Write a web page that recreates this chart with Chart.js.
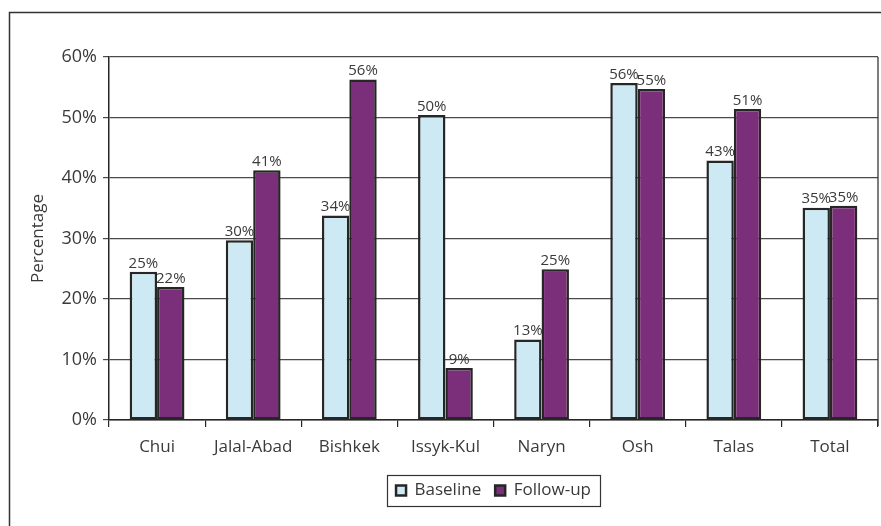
<!DOCTYPE html>
<html lang="en">
<head>
  <meta charset="UTF-8">
  <title>Percentage by region</title>
  <style>
* {
  margin: 0;
  padding: 0;
}
body {
  background: #fff;
}
#wrap {
  width: 881px;
  height: 526px;
}
  </style>
</head>
<body>
  <div id="wrap">
    <canvas id="myChart" width="881" height="526"></canvas>
  </div>
  <script src="https://cdn.jsdelivr.net/npm/chart.js@4.4.1/dist/chart.umd.min.js"></script>
  <script>
    let regions = ['Chui', 'Jalal-Abad', 'Bishkek', 'Issyk-Kul', 'Naryn', 'Osh', 'Talas', 'Total'];
    let baseline = [24.5, 29.7, 33.8, 50.4, 13.3, 55.7, 42.9, 35.1];
    let followUp = [22.0, 41.3, 56.3, 8.6, 24.9, 54.7, 51.4, 35.4];
    let yTicks = [0, 10, 20, 30, 40, 50, 60];

    let fontFamily = '"Open Sans", "Noto Sans", sans-serif';
    let textColor = '#3a3a3a';
    let lineColor = '#262626';

    // frame round the whole figure, right and bottom edges fall outside the canvas
    let framePlugin = {
      id: 'frame',
      beforeDraw(chart) {
        let c = chart.ctx;
        c.save();
        c.fillStyle = '#fff';
        c.fillRect(0, 0, chart.width, chart.height);
        c.strokeStyle = '#333';
        c.lineWidth = 1.5;
        c.strokeRect(9.5, 12.5, chart.width + 20, chart.height + 20);
        c.restore();
      },
      afterDraw(chart) {
        let c = chart.ctx;
        let a = chart.chartArea;
        c.save();
        // right edge of the plot box
        c.strokeStyle = lineColor;
        c.lineWidth = 1.2;
        c.beginPath();
        c.moveTo(a.right, a.top);
        c.lineTo(a.right, a.bottom + 6);
        c.stroke();
        // border round the legend items
        let boxes = chart.legend.legendHitBoxes;
        if (boxes && boxes.length) {
          let l = Math.min(...boxes.map(b => b.left));
          let r = Math.max(...boxes.map(b => b.left + b.width));
          let t = Math.min(...boxes.map(b => b.top));
          let bt = Math.max(...boxes.map(b => b.top + b.height));
          c.strokeStyle = '#333';
          c.lineWidth = 1.2;
          c.strokeRect(Math.round(l - 9) + 0.5, Math.round(t - 7) + 0.5, Math.round(r - l + 18), Math.round(bt - t + 14));
        }
        c.restore();
      }
    };

    // percentage written above every bar
    let valueLabels = {
      id: 'valueLabels',
      afterDatasetsDraw(chart) {
        let c = chart.ctx;
        c.save();
        c.font = '15px ' + fontFamily;
        c.fillStyle = textColor;
        c.textAlign = 'center';
        c.textBaseline = 'bottom';
        chart.data.datasets.forEach((ds, i) => {
          chart.getDatasetMeta(i).data.forEach((bar, j) => {
            c.fillText(Math.round(ds.data[j]) + '%', bar.x, bar.y - 1);
          });
        });
        c.restore();
      }
    };

    let ctx = document.getElementById('myChart').getContext('2d');
    let myChart = new Chart(ctx, {
      type: 'bar',
      data: {
        labels: regions,
        datasets: [
          {
            label: 'Baseline',
            data: baseline,
            backgroundColor: '#cde9f4',
            borderColor: lineColor,
            borderWidth: 2.5,
            borderSkipped: false
          },
          {
            label: 'Follow-up',
            data: followUp,
            backgroundColor: '#7b2e79',
            borderColor: lineColor,
            borderWidth: 2.5,
            borderSkipped: false
          }
        ]
      },
      options: {
        responsive: false,
        animation: false,
        devicePixelRatio: 1,
        layout: {
          padding: { left: 0, top: 57, right: 3, bottom: 17 }
        },
        datasets: {
          bar: {
            categoryPercentage: 0.57,
            barPercentage: 1
          }
        },
        scales: {
          x: {
            grid: {
              offset: true,
              drawOnChartArea: false,
              drawTicks: true,
              tickLength: 7,
              color: lineColor,
              lineWidth: 1.2
            },
            border: { color: lineColor, width: 1.5 },
            ticks: {
              color: textColor,
              font: { family: fontFamily, size: 17 },
              padding: 10,
              maxRotation: 0
            },
            afterFit(scale) {
              scale.height = 48;
            }
          },
          y: {
            min: 0,
            max: 60,
            afterBuildTicks(scale) {
              scale.ticks = yTicks.map(v => ({ value: v }));
            },
            grid: {
              color: '#4a4a4a',
              lineWidth: 1.2,
              tickLength: 6
            },
            border: { color: lineColor, width: 1.5 },
            ticks: {
              color: textColor,
              font: { family: fontFamily, size: 18 },
              padding: 6,
              callback: v => v + '%'
            },
            title: {
              display: true,
              text: 'Percentage',
              color: textColor,
              font: { family: fontFamily, size: 17 },
              padding: { top: 28, bottom: 0 }
            },
            afterFit(scale) {
              scale.width = 109;
            }
          }
        },
        plugins: {
          legend: {
            position: 'bottom',
            fullSize: false,
            labels: {
              color: textColor,
              font: { family: fontFamily, size: 17 },
              boxWidth: 10,
              boxHeight: 10,
              padding: 14,
              useBorderRadius: false
            }
          },
          tooltip: { enabled: false }
        }
      },
      plugins: [framePlugin, valueLabels]
    });
  </script>
</body>
</html>
